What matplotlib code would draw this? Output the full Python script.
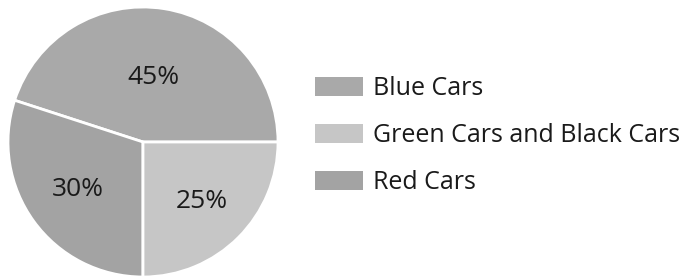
import matplotlib
matplotlib.use("Agg")
import matplotlib.pyplot as plt
from matplotlib.patches import Patch
import numpy as np

plt.rcParams['font.family'] = ['Open Sans', 'DejaVu Sans']

slice_labels = ["Blue Cars", "Red Cars", "Green Cars and Black Cars"]
slice_values = [45, 30, 25]
slice_colors = ["#a9a9a9", "#a3a3a3", "#c6c6c6"]
label_radius = [0.48, 0.6, 0.62]

legend_labels = ["Blue Cars", "Green Cars and Black Cars", "Red Cars"]
legend_colors = ["#a9a9a9", "#c6c6c6", "#a3a3a3"]

fig = plt.figure(figsize=(6.95, 2.78), dpi=100)
ax = fig.add_axes([8/695, 1/278, 270/695, 270/278])
wedges, texts, autotexts = ax.pie(
    slice_values, colors=slice_colors, startangle=0, counterclock=True,
    autopct=lambda p: f"{p:.0f}%", pctdistance=0.55,
    wedgeprops=dict(edgecolor="white", linewidth=2),
    textprops=dict(fontsize=19, color="#1a1a1a"))
for w, t, r in zip(wedges, autotexts, label_radius):
    ang = np.deg2rad((w.theta1 + w.theta2) / 2)
    t.set_position((r * np.cos(ang), r * np.sin(ang)))
ax.set_xlim(-1, 1)
ax.set_ylim(-1, 1)
ax.set_aspect("equal")

handles = [Patch(facecolor=c, edgecolor="none") for c in legend_colors]
fig.legend(handles, legend_labels, loc="center left",
           bbox_to_anchor=(315/695, 0.513), frameon=False, fontsize=18,
           handlelength=1.9, handleheight=0.8, handletextpad=0.42,
           labelspacing=0.88, labelcolor="#1a1a1a", borderpad=0,
           borderaxespad=0)

fig.savefig("out.png", dpi=100, facecolor="white")
